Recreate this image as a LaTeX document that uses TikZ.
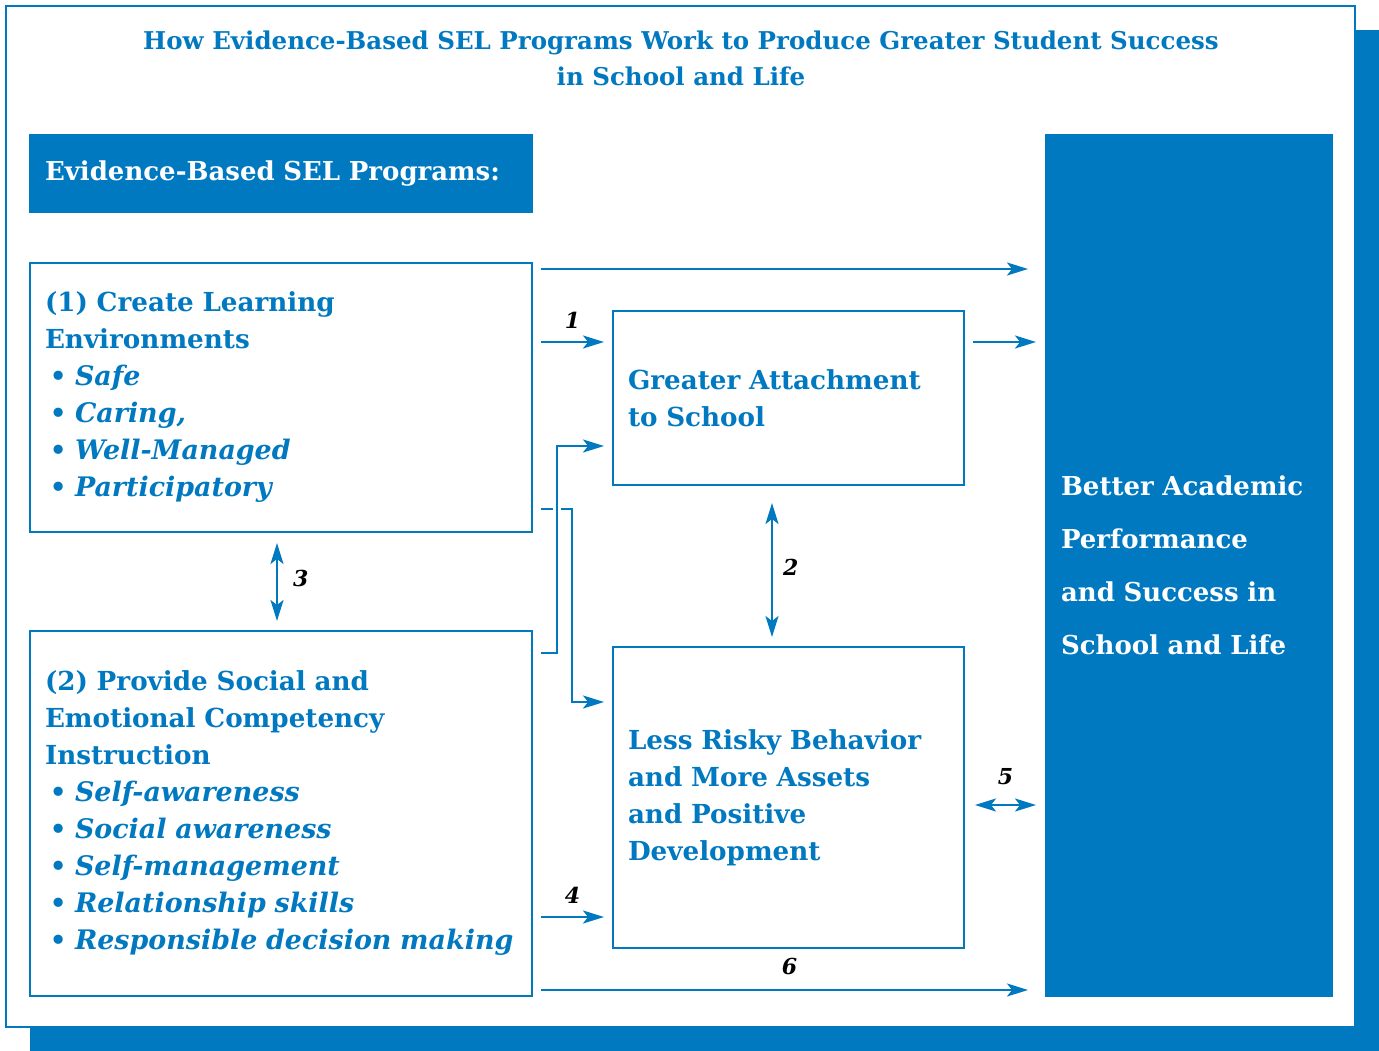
\documentclass[tikz,border=0pt]{standalone}
\usepackage{fontspec}
\setmainfont{DejaVu Serif}
\usetikzlibrary{arrows.meta,calc}
\definecolor{selblue}{RGB}{0,121,193}
\newcommand{\selitem}[1]{\hspace*{5pt}\makebox[25pt][l]{\textbullet}{\fontsize{26.9}{37}\selectfont\itshape #1}}
\tikzset{
  framebox/.style={draw=selblue, line width=2.5pt, rectangle, outer sep=0pt, inner xsep=15pt, inner ysep=0pt, align=left, text=selblue,
    font=\fontsize{26.2}{37}\selectfont\bfseries},
  panel/.style={fill=selblue, rectangle, outer sep=0pt, inner xsep=16pt, inner ysep=0pt, align=left, text=white},
  conn/.style={draw=selblue, line width=2.2pt, -{Stealth[length=21pt,width=13pt,inset=5pt]}},
  dconn/.style={draw=selblue, line width=2.2pt, {Stealth[length=21pt,width=13pt,inset=5pt]}-{Stealth[length=21pt,width=13pt,inset=5pt]}},
  halo/.style={preaction={draw=white, line width=8pt, -}},
  num/.style={inner sep=0pt, text=black, font=\fontsize{22}{22}\selectfont\bfseries\itshape},
}
\begin{document}
\begin{tikzpicture}[x=1pt,y=-1pt]
\useasboundingbox (0,0) rectangle (1379,1051);
% shadow and frame
\fill[selblue] (30,30) rectangle (1379,1051);
\draw[selblue, line width=2pt, fill=white] (6,6) rectangle (1355,1027);
% title
\node[align=center, text=selblue, font=\fontsize{24.5}{36}\selectfont\bfseries] (title) at (681,58)
  {How Evidence-Based SEL Programs Work to Produce Greater Student Success\\in School and Life};
% header
\node[panel, minimum width=504, minimum height=79, text width=472, font=\fontsize{26}{30}\selectfont\bfseries] (hdr) at (281,173.5)
  {Evidence-Based SEL Programs:};
% box 1
\node[framebox, minimum width=502, minimum height=269, text width=472] (b1) at (281,397.5)
  {(1) Create Learning\\Environments\\\selitem{Safe}\\\selitem{Caring,}\\\selitem{Well-Managed}\\\selitem{Participatory}};
% box 2
\node[framebox, minimum width=502, minimum height=365, text width=472] (b2) at (281,813.5)
  {(2) Provide Social and\\Emotional Competency\\Instruction\\\selitem{Self-awareness}\\\selitem{Social awareness}\\\selitem{Self-management}\\\selitem{Relationship skills}\\\selitem{Responsible decision making}};
% attachment
\node[framebox, minimum width=351, minimum height=174, text width=321] (att) at (788.5,398)
  {Greater Attachment\\to School};
% risky
\node[framebox, minimum width=351, minimum height=301, text width=321] (risk) at (788.5,797.5)
  {Less Risky Behavior\\and More Assets\\and Positive\\Development};
% result
\node[panel, minimum width=288, minimum height=863, text width=256, font=\fontsize{26}{53}\selectfont\bfseries] (res) at (1189,565.5)
  {Better Academic\\Performance\\and Success in\\School and Life};
% connectors
\draw[conn] ($(b1.north east)+(9,6)$) coordinate (t0) -- ($(res.west |- t0)+(-17,0)$);
\draw[conn] ($(b1.north east)+(9,79)$) coordinate (a1) -- ($(att.west |- a1)+(-9,0)$)
  node[num, midway, above=12pt] (n1) {1};
\draw[conn] ($(att.north east)+(9,31)$) coordinate (a7) -- ($(res.west |- a7)+(-9,0)$);
\draw[conn] ($(b1.south east)+(9,-23)$) coordinate (a8) -- ++(31,0) |- ($(risk.north west)+(-9,55)$);
\draw[conn, halo] ($(b2.north east)+(9,22)$) coordinate (a9) -- ++(16,0) |- ($(att.south west)+(-9,-39)$);
\draw[dconn] ($(att.south)+(-16.5,18)$) -- ($(risk.north)+(-16.5,-10)$)
  node[num, midway, right=10pt, yshift=3pt] (n2) {2};
\draw[dconn] ($(b1.south)+(-4,11)$) -- ($(b2.north)+(-4,-10)$)
  node[num, midway, right=15pt, yshift=4pt] (n3) {3};
\draw[conn] ($(b2.north east)+(9,286)$) coordinate (a4) -- ($(risk.west |- a4)+(-9,0)$)
  node[num, midway, above=12pt] (n4) {4};
\draw[dconn] ($(risk.north east)+(11,158)$) coordinate (a5) -- ($(res.west |- a5)+(-9,0)$)
  node[num, midway, above=19pt] (n5) {5};
\draw[conn] ($(b2.south east)+(9,-6)$) coordinate (a6) -- ($(res.west |- a6)+(-17,0)$)
  node[num, midway, above=14pt, xshift=5pt] (n6) {6};
\end{tikzpicture}
\end{document}
